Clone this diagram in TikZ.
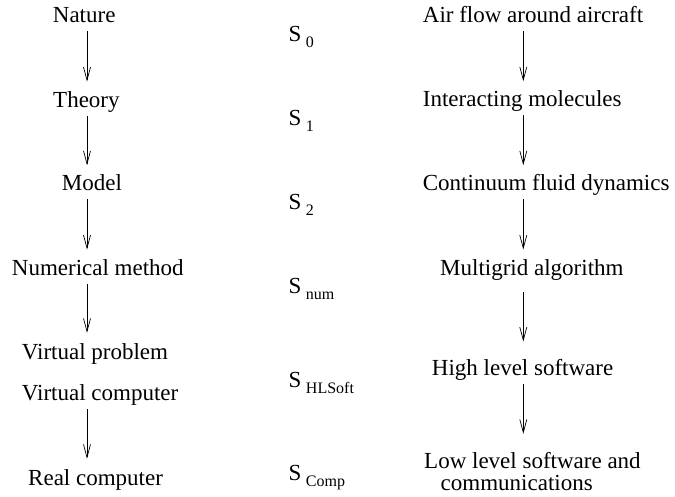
\documentclass[tikz,border=0pt]{standalone}
\usepackage{fontspec}
\setmainfont{Liberation Serif}
\usepackage{tikz}
\usetikzlibrary{arrows.meta}

\newcommand{\Ssub}[1]{S\hspace{4.5pt}\raisebox{-6pt}{\fontsize{16}{16}\selectfont #1}}

\begin{document}
\begin{tikzpicture}[
    x=1pt, y=-1pt,
    label/.style={anchor=base west, inner sep=0pt, text height=15pt, text depth=5pt, font=\fontsize{23}{27}\selectfont},
    arrow/.style={line width=0.7pt, -{Straight Barb[length=13pt,width=7pt]}, shorten <=3.3pt, shorten >=10.3pt}
  ]
    \useasboundingbox (0,0) rectangle (675,496);
    \coordinate (lcol) at (87,0);
    \coordinate (rcol) at (523.3,0);

    % Nodes
    \node[label] (nature) at (52.7,22.7) {Nature};
    \node[label] (theory) at (53,107) {Theory};
    \node[label] (model) at (61.7,190.7) {Model};
    \node[label] (nummeth) at (11.7,275) {Numerical method};
    \node[label] (virtprob) at (21.7,359) {Virtual problem};
    \node[label] (virtcomp) at (21.7,400) {Virtual computer};
    \node[label] (realcomp) at (28,485) {Real computer};

    \node[label] (s0) at (288.5,41) {\Ssub{0}};
    \node[label] (s1) at (288.5,125) {\Ssub{1}};
    \node[label] (s2) at (288.5,209) {\Ssub{2}};
    \node[label] (snum) at (288.5,293) {\Ssub{num}};
    \node[label] (shlsoft) at (288.5,387) {\Ssub{HLSoft}};
    \node[label] (scomp) at (288.5,480) {\Ssub{Comp}};

    \node[label] (airflow) at (422.7,22.7) {Air flow around aircraft};
    \node[label] (molecules) at (422.7,106.7) {Interacting molecules};
    \node[label] (continuum) at (422.7,190.7) {Continuum fluid dynamics};
    \node[label] (multigrid) at (440,275) {Multigrid algorithm};
    \node[label] (hlsoft) at (431.7,375) {High level software};
    \node[label] (llsoft) at (424,468) {Low level software and};
    \node[label] (comm) at (440.5,490) {communications};

    % Arrows
    \draw[arrow] (nature.south -| lcol) -- (theory.north -| lcol);
    \draw[arrow] (theory.south -| lcol) -- (model.north -| lcol);
    \draw[arrow] (model.south -| lcol) -- (nummeth.north -| lcol);
    \draw[arrow, shorten >=11pt] (nummeth.south -| lcol) -- (virtprob.north -| lcol);
    \draw[arrow, shorten <=4pt, shorten >=11pt] (virtcomp.south -| lcol) -- (realcomp.north -| lcol);

    \draw[arrow] (airflow.south -| rcol) -- (molecules.north -| rcol);
    \draw[arrow] (molecules.south -| rcol) -- (continuum.north -| rcol);
    \draw[arrow] (continuum.south -| rcol) -- (multigrid.north -| rcol);
    \draw[arrow, shorten <=11.7pt, shorten >=18.3pt] (multigrid.south -| rcol) -- (hlsoft.north -| rcol);
    \draw[arrow, shorten <=4pt, shorten >=19pt] (hlsoft.south -| rcol) -- (llsoft.north -| rcol);
  \end{tikzpicture}
\end{document}
